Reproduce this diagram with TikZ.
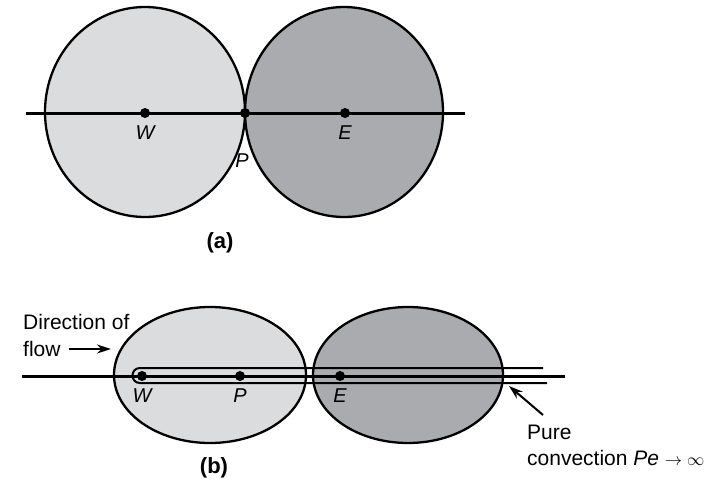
\documentclass[tikz,border=0pt]{standalone}
\usepackage{fontspec}
\setmainfont{Liberation Sans}
\usetikzlibrary{arrows.meta}
\definecolor{cellW}{RGB}{219,220,222}
\definecolor{cellE}{RGB}{170,171,174}
\tikzset{
  cvrand/.style={draw=black, line width=2.3pt},
  knoten/.style={circle, fill=black, inner sep=0pt, minimum size=10pt},
  knotenlbl/.style={font=\fontsize{20}{22}\selectfont\itshape, inner sep=0pt},
  txt/.style={font=\fontsize{21}{23}\selectfont, anchor=west, inner sep=0pt},
  teil/.style={font=\fontsize{22}{24}\selectfont\bfseries, inner sep=0pt},
  achse/.style={line width=3pt},
  stromlinie/.style={line width=2pt},
  pfeil/.style={line width=2pt, -{Stealth[length=14pt, width=9pt]}},
}
\begin{document}
\begin{tikzpicture}[x=1pt, y=-1pt]
  \useasboundingbox (0,0) rectangle (717,482);

  % (a) Kontrollvolumen als Kreise
  \draw[cvrand, fill=cellW] (145,112) ellipse [x radius=100, y radius=105];
  \draw[cvrand, fill=cellE] (344,112) ellipse [x radius=99, y radius=105];
  \coordinate (aL) at (26,113);
  \coordinate (aR) at (465,113);
  \draw[achse] (aL) -- (aR);
  \node[knoten] (aW) at (145,113) {};
  \node[knoten] (aP) at (245,113) {};
  \node[knoten] (aE) at (345,113) {};
  \node[knotenlbl] (aWl) at (145,133) {W};
  \node[knotenlbl] (aPl) at (242,161) {P};
  \node[knotenlbl] (aEl) at (345,133) {E};
  \node[teil] (ta) at (220,243) {(a)};

  % (b) gestreckte Kontrollvolumen
  \draw[cvrand, fill=cellW] (210,375) ellipse [x radius=96, y radius=68];
  \draw[cvrand, fill=cellE] (408,375) ellipse [x radius=95, y radius=68];
  \coordinate (bL) at (22,376);
  \coordinate (bR) at (565,376);
  \draw[achse] (bL) -- (bR);
  % Stromlinie um W
  \coordinate (sOben) at (543,368);
  \coordinate (sUnten) at (547,383);
  \draw[stromlinie] (sOben) -- (140,368)
    .. controls (130,368) and (130,383) .. (140,383) -- (sUnten);
  \node[knoten] (bW) at (142,376) {};
  \node[knoten] (bP) at (240,376) {};
  \node[knoten] (bE) at (340,376) {};
  \node[knotenlbl] (bWl) at (142,396) {W};
  \node[knotenlbl] (bPl) at (240,396) {P};
  \node[knotenlbl] (bEl) at (340,396) {E};
  \node[teil] (tb) at (214,468) {(b)};

  % Beschriftungen
  \node[txt] (dir) at (23,322) {Direction of};
  \node[txt] (flow) at (23,349) {flow};
  \coordinate (flowtip) at (111,349);
  \draw[pfeil] ([xshift=8pt]flow.east) -- (flowtip);
  \node[txt] (pure) at (527,432) {Pure};
  \node[txt] (conv) at (527,458)
    {convection \textit{Pe} {\fontsize{16}{18}\selectfont$\rightarrow\infty$}};
  \coordinate (pureA) at (543,415);
  \coordinate (pureB) at (509,386);
  \draw[pfeil] (pureA) -- (pureB);
\end{tikzpicture}
\end{document}
